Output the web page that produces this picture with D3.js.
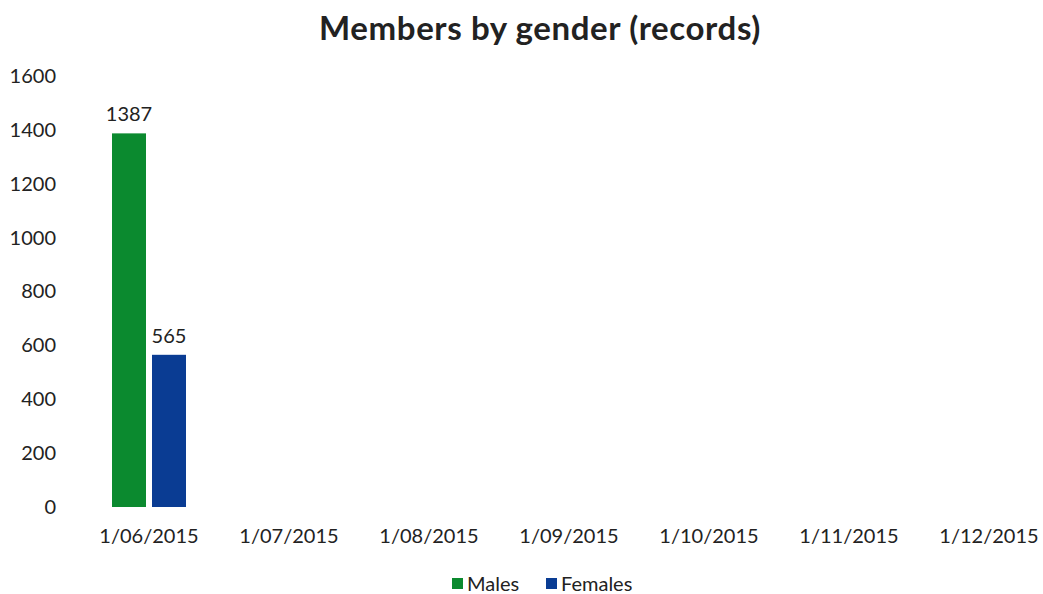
<!DOCTYPE html>
<html>
<head>
    <script src="https://d3js.org/d3.v7.min.js"></script>
    <style>
        body { margin: 0; background: #fff; }
        text { font-family: Lato, "Open Sans", sans-serif; fill: #222; }
    </style>
</head>
<body>
    <div id="chart"></div>
    <script>
        // Data
        var months = ["1/06/2015", "1/07/2015", "1/08/2015", "1/09/2015", "1/10/2015", "1/11/2015", "1/12/2015"];
        var seriesNames = ["Males", "Females"];
        var males = [1387, null, null, null, null, null, null];
        var females = [565, null, null, null, null, null, null];
        var yTicks = [0, 200, 400, 600, 800, 1000, 1200, 1400, 1600];
        var colors = ["#0b8a2f", "#0a3c93"];

        var width = 1043, height = 594;

        var svg = d3.select("#chart").append("svg")
            .attr("width", width)
            .attr("height", height);

        var x = d3.scaleBand().domain(months).range([79, 1059]).paddingInner(0).paddingOuter(0);
        var xSub = d3.scaleBand().domain(seriesNames).range([x.bandwidth() / 2 - 37, x.bandwidth() / 2 + 37]).paddingInner(0.15);
        var y = d3.scaleLinear().domain([0, 1600]).range([507, 76]);

        // title
        svg.append("text")
            .attr("x", 540).attr("y", 40)
            .attr("text-anchor", "middle")
            .style("font-size", "33px").style("font-weight", "bold")
            .style("letter-spacing", "0.6px")
            .text("Members by gender (records)");

        // y axis
        var yAxis = svg.append("g")
            .attr("transform", "translate(56,0)")
            .call(d3.axisLeft(y).tickValues(yTicks).tickSize(0).tickPadding(0).tickFormat(d3.format("d")));
        yAxis.select(".domain").remove();
        yAxis.selectAll("text").style("font-size", "20px").style("font-family", "Lato, sans-serif").attr("fill", "#222");

        // x axis
        var xAxis = svg.append("g")
            .attr("transform", "translate(0,524)")
            .call(d3.axisBottom(x).tickSize(0).tickPadding(0));
        xAxis.select(".domain").remove();
        xAxis.selectAll("text").style("font-size", "20px").style("font-family", "Lato, sans-serif").attr("fill", "#222").attr("dy", "0.95em");

        var rows = months.map(function(m, i) {
            return { month: m, values: [
                { key: "Males", value: males[i] },
                { key: "Females", value: females[i] }
            ] };
        });

        var groups = svg.selectAll(".grp")
            .data(rows)
            .enter().append("g")
            .attr("class", "grp")
            .attr("transform", function(d) { return "translate(" + x(d.month) + ",0)"; });

        var cells = groups.selectAll(".cell")
            .data(function(d) { return d.values.filter(function(v) { return v.value != null; }); })
            .enter();

        cells.append("rect")
            .attr("x", function(d) { return xSub(d.key); })
            .attr("width", xSub.bandwidth())
            .attr("y", function(d) { return y(d.value); })
            .attr("height", function(d) { return y(0) - y(d.value); })
            .attr("fill", function(d) { return colors[seriesNames.indexOf(d.key)]; });

        cells.append("text")
            .attr("x", function(d) { return xSub(d.key) + xSub.bandwidth() / 2; })
            .attr("y", function(d) { return y(d.value) - 12; })
            .attr("text-anchor", "middle")
            .style("font-size", "20px")
            .text(function(d) { return d.value; });

        // legend
        var legend = svg.append("g").attr("transform", "translate(452,591)");
        var lx = [0, 94];
        seriesNames.forEach(function(name, i) {
            var g = legend.append("g").attr("transform", "translate(" + lx[i] + ",0)");
            g.append("rect").attr("x", 0).attr("y", -13).attr("width", 11).attr("height", 11).attr("fill", colors[i]);
            g.append("text").attr("x", 15).attr("y", 0).style("font-size", "20px").text(name);
        });
    </script>
</body>
</html>
